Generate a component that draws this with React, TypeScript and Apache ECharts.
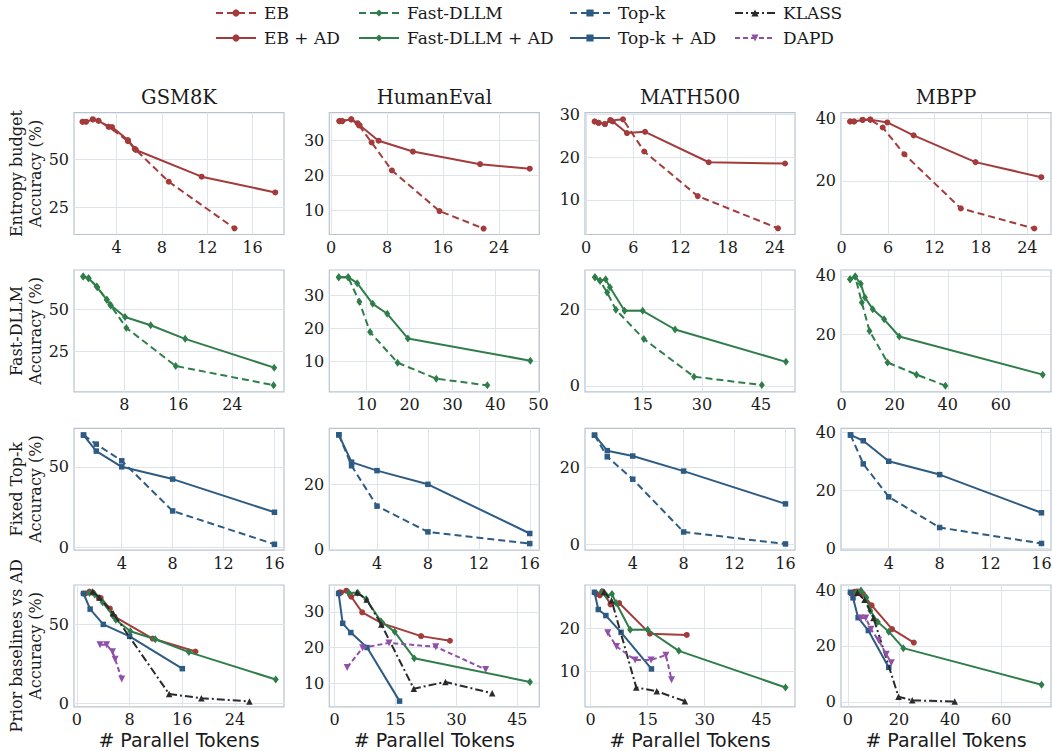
import React, { useEffect, useRef } from 'react';
import * as echarts from 'echarts';

// ---------- data ----------
const datasets = ['GSM8K', 'HumanEval', 'MATH500', 'MBPP'];
const rowLabels = [
  'Entropy budget\nAccuracy (%)',
  'Fast-DLLM\nAccuracy (%)',
  'Fixed Top-k\nAccuracy (%)',
  'Prior baselines vs AD\nAccuracy (%)',
];

// GSM8K
const ebGSM = [[1.0, 69.6], [1.3, 69.6], [1.9, 70.8], [2.4, 70.1], [3.3, 67.0], [5.0, 59.5], [5.6, 55.5], [8.6, 38.4], [14.4, 14.1]];
const ebAdGSM = [[1.0, 69.6], [1.3, 69.6], [1.9, 70.8], [2.4, 70.1], [3.3, 67.0], [3.6, 66.8], [5.0, 60.1], [5.7, 54.9], [11.5, 41.0], [18.0, 32.8]];
const fdGSM = [[1.9, 70], [2.7, 69], [4.0, 63.6], [5.4, 56], [6.0, 52.5], [8.3, 39], [15.6, 16], [30.1, 4.4]];
const fdAdGSM = [[1.9, 70], [2.7, 69], [3.9, 64], [5.4, 56], [5.9, 53], [8.1, 45.6], [11.9, 40.6], [17.0, 32.4], [30.2, 15.0]];
const tkGSM = [[1, 69.6], [2, 64.0], [4, 53.7], [8, 22.7], [16, 2.1]];
const tkAdGSM = [[1, 69.6], [2, 59.7], [4, 50.0], [8, 42.4], [16, 21.9]];
const klassGSM = [[2.4, 70.8], [3.4, 67], [5.5, 57], [14.0, 5.8], [18.9, 3.2], [26.2, 1.1]];
const dapdGSM = [[3.5, 37.1], [4.5, 37.1], [5.4, 32.6], [5.8, 27.9], [6.8, 15.4]];

// HumanEval
const ebHE = [[1.2, 35.5], [1.6, 35.5], [2.9, 36.0], [4.0, 34.3], [5.8, 29.4], [8.7, 21.4], [15.5, 9.8], [21.8, 4.8]];
const ebAdHE = [[1.2, 35.5], [1.6, 35.5], [2.9, 36.0], [3.8, 34.9], [4.1, 34.3], [6.8, 29.9], [11.7, 26.8], [21.3, 23.2], [28.4, 21.9]];
const fdHE = [[3.5, 35.4], [5.7, 35.4], [8.3, 28.0], [10.8, 18.9], [17.2, 9.7], [26.2, 4.9], [38.1, 2.9]];
const fdAdHE = [[3.5, 35.4], [5.7, 35.4], [7.8, 33.6], [11.4, 27.4], [14.8, 24.4], [19.6, 17.0], [48.1, 10.3]];
const tkHE = [[1, 35.2], [2, 25.7], [4, 13.3], [8, 5.4], [16, 1.8]];
const tkAdHE = [[1, 35.2], [2, 26.8], [4, 24.2], [8, 20.0], [16, 4.9]];
const klassHE = [[5.5, 35.5], [7.9, 33.5], [11.5, 26.5], [19.5, 8.4], [27.3, 10.3], [38.8, 7.1]];
const dapdHE = [[3.1, 14.4], [6.9, 19.9], [13.4, 21.3], [24.9, 20.2], [37.2, 13.8]];

// MATH500
const ebMATH = [[1.1, 28.3], [1.6, 28.0], [2.4, 27.7], [3.1, 28.6], [4.7, 28.8], [7.4, 21.3], [14.2, 10.9], [24.4, 3.4]];
const ebAdMATH = [[1.1, 28.3], [1.6, 28.0], [2.4, 27.7], [3.1, 28.6], [3.4, 28.3], [5.2, 25.6], [7.5, 25.9], [15.6, 18.8], [25.3, 18.5]];
const fdMATH = [[2.9, 28.5], [4.2, 27.6], [6.0, 24.5], [8.2, 20.0], [15.3, 12.3], [28.0, 2.4], [45.2, 0.2]];
const fdAdMATH = [[2.9, 28.5], [4.2, 27.6], [5.6, 28.0], [6.7, 25.9], [10.4, 19.7], [15.0, 19.7], [23.2, 14.8], [51.3, 6.3]];
const tkMATH = [[1, 28.4], [2, 22.8], [4, 17.0], [8, 3.3], [16, 0.2]];
const tkAdMATH = [[1, 28.4], [2, 24.4], [4, 23.0], [8, 19.1], [16, 10.6]];
const klassMATH = [[3.5, 28.5], [5.5, 26.5], [12.0, 6.3], [17.4, 5.4], [24.8, 3.1]];
const dapdMATH = [[4.5, 19.0], [6.8, 15.8], [11.7, 12.7], [15.9, 12.7], [19.8, 13.8], [21.3, 8.1]];

// MBPP
const ebMBPP = [[1.1, 38.9], [1.6, 38.9], [2.7, 39.4], [3.7, 39.5], [5.3, 37.0], [8.1, 28.5], [15.4, 11.3], [24.9, 4.9]];
const ebAdMBPP = [[1.1, 38.9], [1.6, 38.9], [2.7, 39.4], [3.7, 39.5], [5.9, 38.6], [9.3, 34.5], [17.3, 26.0], [25.8, 21.2]];
const fdMBPP = [[3.2, 38.9], [5.1, 39.8], [7.6, 30.9], [10.5, 21.1], [17.3, 10.3], [28.2, 6.1], [39.1, 2.3]];
const fdAdMBPP = [[3.2, 38.9], [5.1, 39.8], [7.2, 37.3], [8.8, 32.6], [11.7, 28.6], [16.0, 25.1], [21.7, 19.2], [75.8, 6.1]];
const tkMBPP = [[1, 39.2], [2, 29.2], [4, 17.8], [8, 7.2], [16, 1.7]];
const tkAdMBPP = [[1, 39.2], [2, 37.2], [4, 30.1], [8, 25.5], [16, 12.3]];
const klassMBPP = [[3.7, 39.0], [6.5, 36.5], [10.0, 30.0], [19.8, 1.8], [25.2, 0.5], [41.8, 0.1]];
const dapdMBPP = [[5, 30], [7, 30], [9, 26], [12, 22], [15, 17], [17, 14]];

// tick labels per panel (row-major)
const xTicks = [
  [[4, 8, 12, 16], [0, 8, 16, 24], [0, 6, 12, 18, 24], [0, 6, 12, 18, 24]],
  [[8, 16, 24], [10, 20, 30, 40, 50], [15, 30, 45], [0, 20, 40, 60]],
  [[4, 8, 12, 16], [4, 8, 12, 16], [4, 8, 12, 16], [4, 8, 12, 16]],
  [[0, 8, 16, 24], [0, 15, 30, 45], [0, 15, 30, 45], [0, 20, 40, 60]],
];
const yTicks = [
  [[25, 50], [10, 20, 30], [10, 20, 30], [20, 40]],
  [[25, 50], [10, 20, 30], [0, 20], [20, 40]],
  [[0, 50], [0, 20], [0, 20], [0, 20, 40]],
  [[0, 50], [10, 20, 30], [10, 20], [0, 20, 40]],
];
const xRanges = [
  [[0.24, 18.77], [-0.24, 29.76], [-0.13, 26.56], [-0.09, 27.06]],
  [[0.54, 31.65], [1.3, 50.2], [0.38, 53.6], [-0.25, 78.9]],
  [[0.25, 16.75], [0.25, 16.75], [0.25, 16.75], [0.25, 16.75]],
  [[-0.45, 31.45], [-1.3, 50.4], [-1.5, 53.8], [-2.7, 79.5]],
];
const yRanges = [
  [[10.9, 74.3], [3.1, 37.9], [1.95, 30.35], [3.0, 41.7]],
  [[0.4, 74], [0.95, 37.56], [-1.57, 30.43], [0.2, 42.06]],
  [[-1.5, 73.8], [-0.2, 37.2], [-1.4, 30.2], [-0.6, 41.5]],
  [[-2.3, 75], [3.3, 37.6], [1.8, 30.1], [-1.8, 41.8]],
];

const panelSeries: Record<string, number[][]>[][] = [
  [
    { 'EB': ebGSM, 'EB + AD': ebAdGSM },
    { 'EB': ebHE, 'EB + AD': ebAdHE },
    { 'EB': ebMATH, 'EB + AD': ebAdMATH },
    { 'EB': ebMBPP, 'EB + AD': ebAdMBPP },
  ],
  [
    { 'Fast-DLLM': fdGSM, 'Fast-DLLM + AD': fdAdGSM },
    { 'Fast-DLLM': fdHE, 'Fast-DLLM + AD': fdAdHE },
    { 'Fast-DLLM': fdMATH, 'Fast-DLLM + AD': fdAdMATH },
    { 'Fast-DLLM': fdMBPP, 'Fast-DLLM + AD': fdAdMBPP },
  ],
  [
    { 'Top-k': tkGSM, 'Top-k + AD': tkAdGSM },
    { 'Top-k': tkHE, 'Top-k + AD': tkAdHE },
    { 'Top-k': tkMATH, 'Top-k + AD': tkAdMATH },
    { 'Top-k': tkMBPP, 'Top-k + AD': tkAdMBPP },
  ],
  [
    { 'EB + AD': ebAdGSM, 'Fast-DLLM + AD': fdAdGSM, 'Top-k + AD': tkAdGSM, 'KLASS': klassGSM, 'DAPD': dapdGSM },
    { 'EB + AD': ebAdHE, 'Fast-DLLM + AD': fdAdHE, 'Top-k + AD': tkAdHE, 'KLASS': klassHE, 'DAPD': dapdHE },
    { 'EB + AD': ebAdMATH, 'Fast-DLLM + AD': fdAdMATH, 'Top-k + AD': tkAdMATH, 'KLASS': klassMATH, 'DAPD': dapdMATH },
    { 'EB + AD': ebAdMBPP, 'Fast-DLLM + AD': fdAdMBPP, 'Top-k + AD': tkAdMBPP, 'KLASS': klassMBPP, 'DAPD': dapdMBPP },
  ],
];

const legendCols = [
  ['EB', 'EB + AD'],
  ['Fast-DLLM', 'Fast-DLLM + AD'],
  ['Top-k', 'Top-k + AD'],
  ['KLASS', 'DAPD'],
];

// ---------- styles ----------
const RED = '#a33b3b';
const GREEN = '#2f7e4a';
const BLUE = '#2d5b83';
const BLACK = '#2b2b2b';
const PURPLE = '#8e50a8';
const FRAME = '#b9c3d0';
const GRIDC = '#dfe3ea';
const TEXT = '#1a1a1a';
const SERIF = '"DejaVu Serif", serif';

const STYLE: Record<string, any> = {
  'EB': { color: RED, symbol: 'circle', size: 6, dash: [7, 4] },
  'EB + AD': { color: RED, symbol: 'circle', size: 6, dash: 'solid' },
  'Fast-DLLM': { color: GREEN, symbol: 'diamond', size: [6, 8], dash: [7, 4] },
  'Fast-DLLM + AD': { color: GREEN, symbol: 'diamond', size: [6, 8], dash: 'solid' },
  'Top-k': { color: BLUE, symbol: 'rect', size: 5.5, dash: [7, 4] },
  'Top-k + AD': { color: BLUE, symbol: 'rect', size: 5.5, dash: 'solid' },
  'KLASS': { color: BLACK, symbol: 'triangle', size: 6.5, dash: [8, 3, 2, 3] },
  'DAPD': { color: PURPLE, symbol: 'triangle', size: 7, rotate: 180, dash: [5, 3] },
};

const COL_LEFT = [74, 329.3, 585, 841];
const ROW_TOP = [112.7, 270, 428.3, 585];
const W = 210;
const H = 121.8;
const LEG_X = [215, 358, 569, 734];

function buildOption() {
  const grid: any[] = [];
  const xAxis: any[] = [];
  const yAxis: any[] = [];
  const series: any[] = [];
  const graphic: any[] = [];

  for (let r = 0; r < 4; r++) {
    for (let c = 0; c < 4; c++) {
      const i = r * 4 + c;
      grid.push({
        left: COL_LEFT[c], top: ROW_TOP[r], width: W, height: H,
        show: true, borderColor: FRAME, borderWidth: 1.2, backgroundColor: 'transparent',
        containLabel: false, outerBoundsMode: 'none',
      });
      xAxis.push({
        type: 'value', gridIndex: i,
        min: xRanges[r][c][0], max: xRanges[r][c][1],
        axisLine: { show: false },
        axisTick: { show: false, customValues: xTicks[r][c] },
        axisLabel: { customValues: xTicks[r][c], fontSize: 16, fontFamily: SERIF, color: TEXT, margin: 5 },
        splitLine: { show: true, lineStyle: { color: GRIDC, width: 1 } },
        name: r === 3 ? '# Parallel Tokens' : '',
        nameLocation: 'middle', nameGap: 24,
        nameTextStyle: { fontSize: 19, fontFamily: '"DejaVu Sans", sans-serif', color: TEXT },
      });
      yAxis.push({
        type: 'value', gridIndex: i,
        min: yRanges[r][c][0], max: yRanges[r][c][1],
        axisLine: { show: false },
        axisTick: { show: false, customValues: yTicks[r][c] },
        axisLabel: { customValues: yTicks[r][c], fontSize: 16, fontFamily: SERIF, color: TEXT, margin: 5 },
        splitLine: { show: true, lineStyle: { color: GRIDC, width: 1 } },
        name: c === 0 ? rowLabels[r] : '',
        nameLocation: 'middle', nameGap: 29.5, nameRotate: 90,
        nameTextStyle: { fontSize: 16, fontFamily: SERIF, color: TEXT, lineHeight: 18.5 },
      });
      const ps = panelSeries[r][c];
      Object.keys(ps).forEach((name, k) => {
        const st = STYLE[name];
        series.push({
          type: 'line', name, xAxisIndex: i, yAxisIndex: i,
          data: ps[name],
          symbol: st.symbol, symbolSize: st.size, symbolRotate: st.rotate || 0,
          showSymbol: true, silent: true, clip: false, z: 2 + k,
          color: st.color,
          itemStyle: { color: st.color },
          lineStyle: { color: st.color, width: 2, type: st.dash },
        });
      });
    }
  }

  for (let c = 0; c < 4; c++) {
    graphic.push({
      type: 'text', x: COL_LEFT[c] + W / 2, y: 97, silent: true,
      style: { text: datasets[c], fontSize: 19.5, fontFamily: SERIF, fill: TEXT, align: 'center', verticalAlign: 'middle' },
    });
  }

  const legend = legendCols.map((names, k) => ({
    orient: 'vertical', left: LEG_X[k], top: 4, padding: 0,
    itemWidth: 40, itemHeight: 9, itemGap: 7,
    selectedMode: false,
    data: names,
    textStyle: { fontSize: 17, fontFamily: SERIF, color: TEXT, lineHeight: 18, padding: [0, 0, 0, 3] },
  }));

  return {
    animation: false,
    backgroundColor: '#ffffff',
    textStyle: { fontFamily: SERIF },
    grid, xAxis, yAxis, series, legend, graphic,
  };
}

export default function App() {
  const ref = useRef<HTMLDivElement>(null);
  useEffect(() => {
    if (!ref.current) return;
    const chart = echarts.init(ref.current, undefined, { renderer: 'svg' });
    chart.setOption(buildOption() as any);
    return () => chart.dispose();
  }, []);
  return (
    <div
      ref={ref}
      style={{ position: 'absolute', left: 0, top: 0, width: 1052, height: 751 }}
    />
  );
}
